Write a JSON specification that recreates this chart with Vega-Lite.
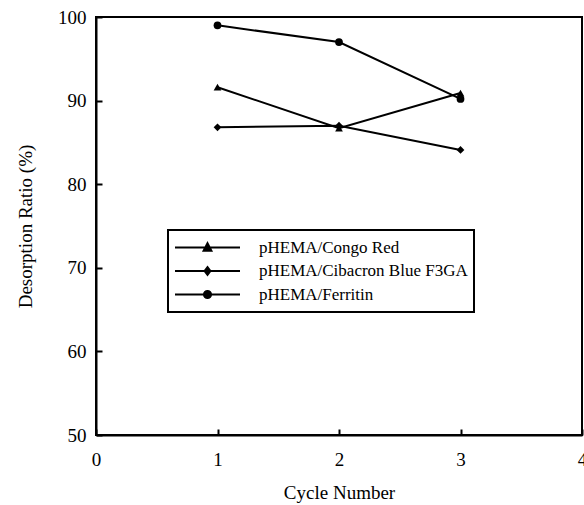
{
  "$schema": "https://vega.github.io/schema/vega-lite/v6.json",
  "width": 486,
  "height": 418,
  "autosize": {"type": "none"},
  "padding": {"left": 96, "top": 17, "right": 2, "bottom": 70},
  "background": "white",
  "config": {
    "font": "Liberation Serif",
    "view": {"stroke": "black", "strokeWidth": 2},
    "legend": {"strokeWidth": 2},
    "axis": {
      "grid": false,
      "domainColor": "black",
      "domainWidth": 2,
      "tickColor": "black",
      "tickWidth": 2,
      "labelFont": "Liberation Serif",
      "labelFontSize": 19,
      "labelColor": "black",
      "titleFont": "Liberation Serif",
      "titleFontSize": 19,
      "titleFontWeight": "normal",
      "titleColor": "black"
    }
  },
  "data": {
    "values": [
      {"cycle": 1, "ratio": 91.6, "series": "pHEMA/Congo Red"},
      {"cycle": 2, "ratio": 86.7, "series": "pHEMA/Congo Red"},
      {"cycle": 3, "ratio": 90.9, "series": "pHEMA/Congo Red"},
      {"cycle": 1, "ratio": 86.8, "series": "pHEMA/Cibacron Blue F3GA"},
      {"cycle": 2, "ratio": 87.0, "series": "pHEMA/Cibacron Blue F3GA"},
      {"cycle": 3, "ratio": 84.1, "series": "pHEMA/Cibacron Blue F3GA"},
      {"cycle": 1, "ratio": 99.0, "series": "pHEMA/Ferritin"},
      {"cycle": 2, "ratio": 97.0, "series": "pHEMA/Ferritin"},
      {"cycle": 3, "ratio": 90.2, "series": "pHEMA/Ferritin"}
    ]
  },
  "encoding": {
    "x": {
      "field": "cycle",
      "type": "quantitative",
      "scale": {"domain": [0, 4], "nice": false, "zero": false},
      "axis": {"title": "Cycle Number", "values": [0, 1, 2, 3, 4], "tickSize": -6, "labelPadding": 21, "titlePadding": 14, "labelFlush": false}
    },
    "y": {
      "field": "ratio",
      "type": "quantitative",
      "scale": {"domain": [50, 100], "nice": false, "zero": false},
      "axis": {"title": "Desorption Ratio (%)", "values": [50, 60, 70, 80, 90, 100], "tickSize": -6, "labelPadding": 16, "titlePadding": 22, "labelFlush": false}
    }
  },
  "layer": [
    {
      "mark": {"type": "line", "color": "black", "strokeWidth": 2},
      "encoding": {"detail": {"field": "series"}}
    },
    {
      "mark": {"type": "point", "filled": true, "color": "black", "opacity": 1, "size": 60},
      "encoding": {
        "shape": {
          "field": "series",
          "scale": {"domain": ["pHEMA/Congo Red", "pHEMA/Cibacron Blue F3GA", "pHEMA/Ferritin"], "range": ["triangle-up", "diamond", "circle"]},
          "legend": null
        }
      }
    },
    {
      "mark": {"type": "point", "filled": false, "color": "black", "opacity": 1, "strokeWidth": 2, "size": 0},
      "encoding": {
        "shape": {
          "field": "series",
          "scale": {"domain": ["pHEMA/Congo Red", "pHEMA/Cibacron Blue F3GA", "pHEMA/Ferritin"], "range": [
            "M-1,0H1M0,-0.13L0.12,0.1L-0.12,0.1ZM0,-0.06L0.06,0.06L-0.06,0.06Z",
            "M-1,0H1M0,-0.12L0.09,0L0,0.12L-0.09,0ZM0,-0.05L0.04,0L0,0.05L-0.04,0Z",
            "M-1,0H1M0.11,0A0.11,0.11,0,1,1,-0.11,0A0.11,0.11,0,1,1,0.11,0ZM0.05,0A0.05,0.05,0,1,1,-0.05,0A0.05,0.05,0,1,1,0.05,0ZM0.015,0A0.015,0.015,0,1,1,-0.015,0A0.015,0.015,0,1,1,0.015,0Z"
          ]},
          "legend": {
            "title": null,
            "orient": "none",
            "legendX": 72,
            "legendY": 213,
            "strokeColor": "black",
            "fillColor": "white",
            "padding": 6,
            "symbolOpacity": 1,
            "symbolFillColor": "black",
            "symbolStrokeColor": "black",
            "symbolStrokeWidth": 2,
            "symbolSize": 4225,
            "clipHeight": 23,
            "labelFont": "Liberation Serif",
            "labelFontSize": 17,
            "labelColor": "black",
            "labelOffset": 18,
            "labelLimit": 400,
            "rowPadding": 0.5
          }
        }
      }
    }
  ],
  "resolve": {"scale": {"shape": "independent"}, "legend": {"shape": "independent"}}
}
